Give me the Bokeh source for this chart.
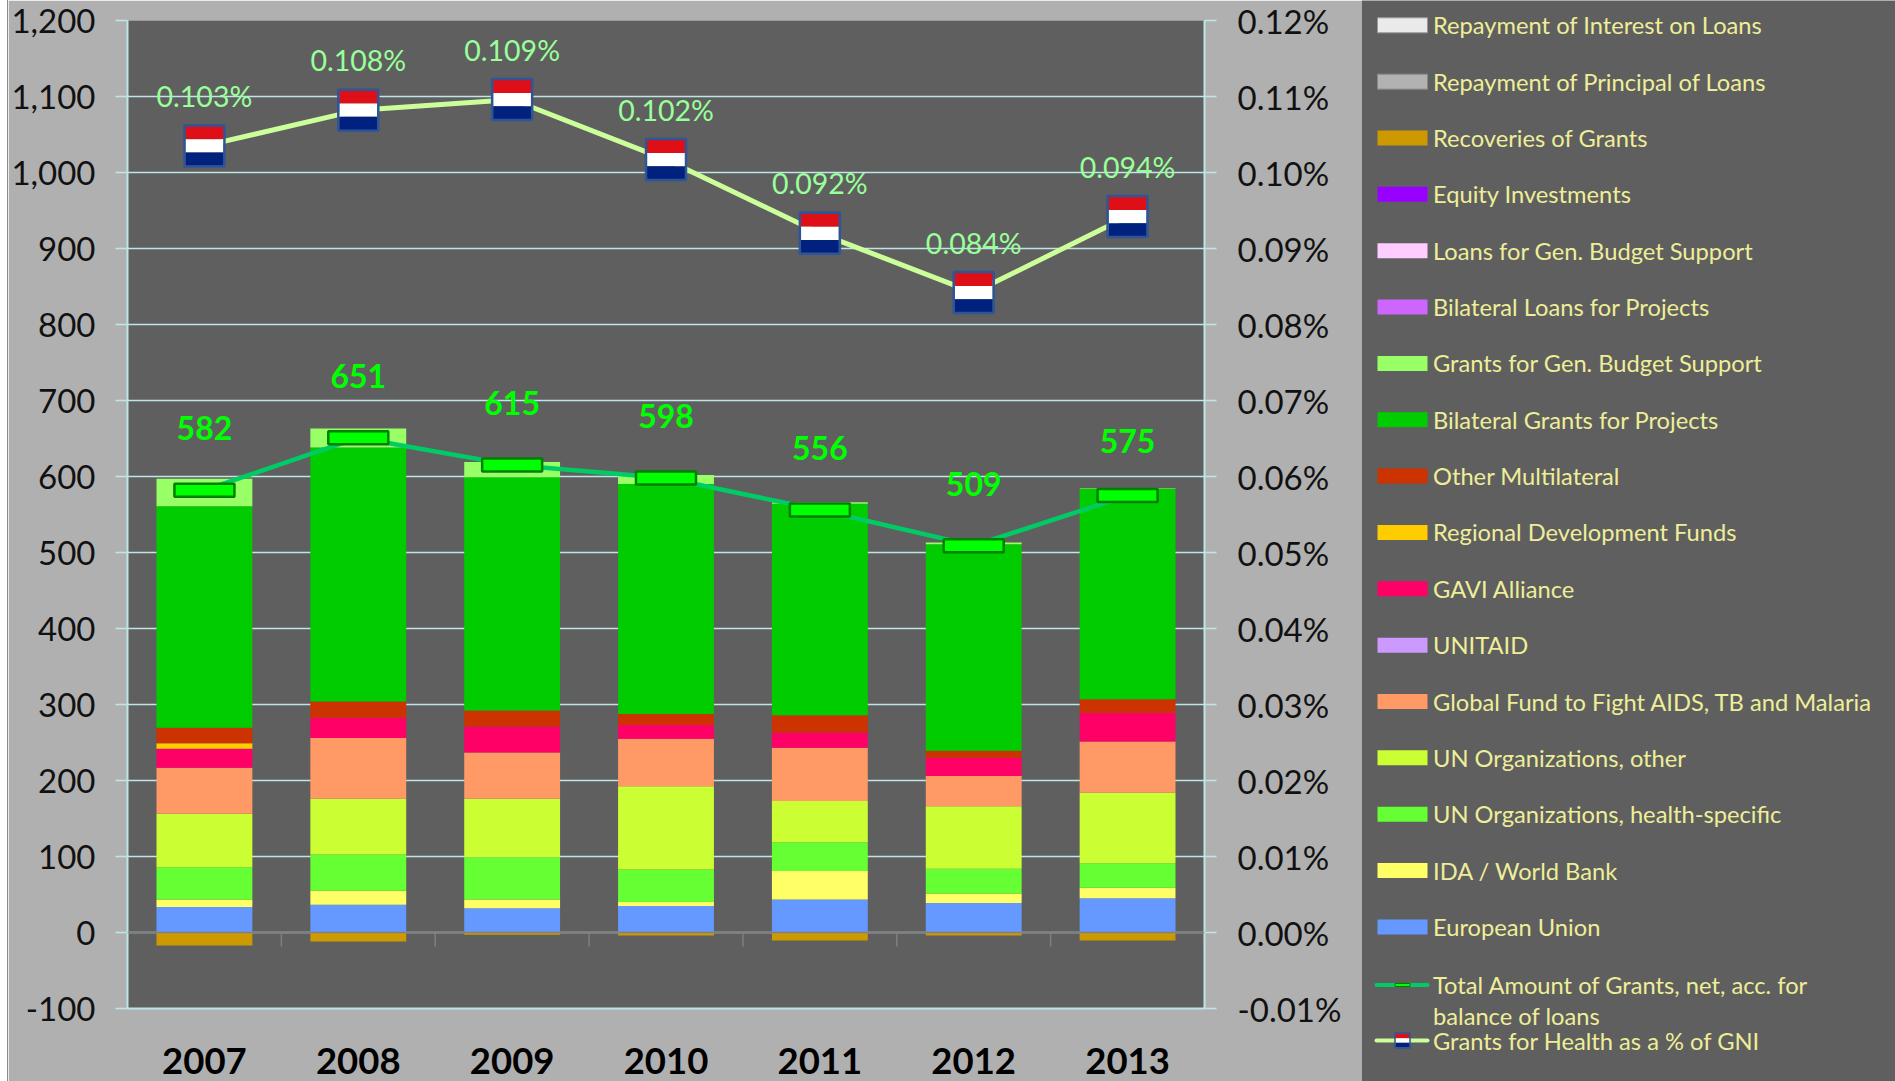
from bokeh.plotting import figure
from bokeh.models import (ColumnDataSource, Range1d, LinearAxis, FixedTicker,
                          NumeralTickFormatter, PrintfTickFormatter, Span)
from bokeh.core.properties import value
from bokeh.embed import file_html
from bokeh.resources import INLINE

years = [2007, 2008, 2009, 2010, 2011, 2012, 2013]

recoveries = [-17, -12, -3, -4, -10.5, -4, -10.5]
european_union = [33.4, 36.5, 32, 35, 43.5, 38.7, 45]
ida_world_bank = [10, 18.5, 11.5, 5, 37.5, 12.7, 14]
un_health = [42.5, 47.5, 55.5, 43, 37.7, 32.6, 32]
un_other = [70.5, 73.5, 77, 109.5, 54.3, 82, 93]
global_fund = [60.5, 80, 61, 62.5, 70, 40, 67.4]
gavi = [25, 26.6, 34, 18, 20, 24, 37.6]
regional_funds = [7, 0, 0, 0, 0, 0, 0]
other_multilateral = [20.5, 21.4, 21, 14.5, 23, 9, 18]
bilateral_grants = [291.5, 334, 307, 302.5, 278, 272, 277]
budget_support = [36, 25, 20, 12, 2, 2, 0.5]

total_grants = [582, 651, 615, 598, 556, 509, 575]
pct_gni = [0.1035, 0.1082, 0.1096, 0.1017, 0.0920, 0.0842, 0.0942]
pct_labels = ["0.103%", "0.108%", "0.109%", "0.102%", "0.092%", "0.084%", "0.094%"]

left_ticks = [-100, 0, 100, 200, 300, 400, 500, 600, 700, 800, 900, 1000, 1100, 1200]
right_ticks = [-0.01, 0, 0.01, 0.02, 0.03, 0.04, 0.05, 0.06, 0.07, 0.08, 0.09, 0.10, 0.11, 0.12]

legend_labels = ["Repayment of Interest on Loans", "Repayment of Principal of Loans",
                 "Recoveries of Grants", "Equity Investments", "Loans for Gen. Budget Support",
                 "Bilateral Loans for Projects", "Grants for Gen. Budget Support",
                 "Bilateral Grants for Projects", "Other Multilateral", "Regional Development Funds",
                 "GAVI Alliance", "UNITAID", "Global Fund to Fight AIDS, TB and Malaria",
                 "UN Organizations, other", "UN Organizations, health-specific",
                 "IDA / World Bank", "European Union"]
legend_colors = ["#EAEAEA", "#B2B2B2", "#CC9900", "#9900FF", "#FFCCFF", "#CC66FF", "#99FF66",
                 "#00CC00", "#CC3300", "#FFCC00", "#FF0066", "#CC99FF", "#FF9966", "#CCFF33",
                 "#66FF33", "#FFFF66", "#6699FF"]
color_of = dict(zip(legend_labels, legend_colors))

GREY = "#B0B0B0"
DARK = "#5F5F5F"
CYAN = "#BFE6E6"
FONT = "Lato"
RED, WHITE, BLUE = "#DF0F17", "#FFFFFF", "#00217D"
FRAME = "#2F5597"

p = figure(width=1353, height=1081, output_backend="svg", toolbar_location=None,
           x_range=Range1d(2006.5, 2013.5), y_range=Range1d(-100, 1200),
           min_border_left=118, min_border_right=157, min_border_top=20, min_border_bottom=73,
           background_fill_color=DARK, border_fill_color=GREY, outline_line_color=None,
           styles={"position": "absolute", "left": "8px", "top": "0px",
                   "box-shadow": "-1px 0 0 #8C8C8C"})
p.extra_y_ranges = {"pct": Range1d(-0.01, 0.12)}

# axes
p.xgrid.visible = False
p.ygrid.ticker = FixedTicker(ticks=left_ticks)
p.ygrid.grid_line_color = CYAN
p.ygrid.grid_line_width = 1.5

ya = p.yaxis[0]
ya.ticker = FixedTicker(ticks=left_ticks)
ya.formatter = NumeralTickFormatter(format="0,0")
right = LinearAxis(y_range_name="pct", ticker=FixedTicker(ticks=right_ticks),
                   formatter=PrintfTickFormatter(format="%.2f%%"))
p.add_layout(right, "right")
for a in (ya, right):
    a.axis_line_color = CYAN
    a.axis_line_width = 2
    a.major_tick_line_color = CYAN
    a.major_tick_line_width = 1.5
    a.major_tick_out = 12
    a.major_tick_in = 0
    a.minor_tick_line_color = None
    a.major_label_text_font = FONT
    a.major_label_text_font_size = "33px"
    a.major_label_text_color = "#111111"
ya.major_label_standoff = 20
right.major_label_standoff = 21

xa = p.xaxis[0]
xa.ticker = FixedTicker(ticks=years)
xa.formatter = PrintfTickFormatter(format="%d")
xa.axis_line_color = CYAN
xa.axis_line_width = 2
xa.major_tick_line_color = None
xa.minor_tick_line_color = None
xa.major_label_text_font = FONT
xa.major_label_text_font_size = "36.5px"
xa.major_label_text_font_style = "bold"
xa.major_label_text_color = "#000000"
xa.major_label_standoff = 33

# stacked bars
stack_series = [("European Union", european_union), ("IDA / World Bank", ida_world_bank),
                ("UN Organizations, health-specific", un_health), ("UN Organizations, other", un_other),
                ("Global Fund to Fight AIDS, TB and Malaria", global_fund), ("GAVI Alliance", gavi),
                ("Regional Development Funds", regional_funds), ("Other Multilateral", other_multilateral),
                ("Bilateral Grants for Projects", bilateral_grants), ("Grants for Gen. Budget Support", budget_support)]
BAR = 0.623
src = ColumnDataSource({"x": years, "recov": recoveries, **{k: v for k, v in stack_series}})
names = [k for k, _ in stack_series]
p.vbar_stack(names, x="x", width=BAR, color=[color_of[n] for n in names], source=src, line_color=None)
p.vbar(x="x", bottom=0, top="recov", width=BAR, color=color_of["Recoveries of Grants"], source=src, line_color=None)

# zero line with its ticks
p.add_layout(Span(location=0, dimension="width", line_color="#7F7F7F", line_width=1.5))
bounds = [years[0] - 0.5] + [y + 0.5 for y in years]
p.segment(x0=bounds, x1=bounds, y0=[0] * len(bounds), y1=[-18.5] * len(bounds),
          line_color="#7F7F7F", line_width=1.5)

# total line
lsrc = ColumnDataSource({"x": years, "y": total_grants, "t": [str(v) for v in total_grants],
                         "off": [-62, -62, -62, -62, -62, -62, -55]})
p.line("x", "y", source=lsrc, line_color="#00CC66", line_width=4.5)
p.rect("x", "y", width=60, height=13, width_units="screen", height_units="screen", source=lsrc,
       fill_color="#00FF00", line_color="#008000", line_width=2.5)
p.text("x", "y", text="t", source=lsrc, text_color="#00FF00", text_font=value(FONT),
       text_font_size="32px", text_font_style="bold", text_align="center", text_baseline="middle", y_offset="off")

# percent line with flags
STRIPE = 17.5  # data units on the left scale, one flag stripe
psrc = ColumnDataSource({"x": years, "y": pct_gni, "t": pct_labels,
                         "off": [-50, -50, -50, -50, -50, -50, -50],
                         "top": [v * 10000 + STRIPE for v in pct_gni],
                         "mid": [v * 10000 for v in pct_gni],
                         "low": [v * 10000 - STRIPE for v in pct_gni]})
p.line("x", "y", source=psrc, y_range_name="pct", line_color="#CCFF99", line_width=5)
for col, colr in (("top", RED), ("mid", WHITE), ("low", BLUE)):
    p.rect("x", col, width=38, height=13.3, width_units="screen", height_units="screen", source=psrc,
           fill_color=colr, line_color=None)
p.rect("x", "mid", width=40, height=41, width_units="screen", height_units="screen", source=psrc,
       fill_color=None, line_color=FRAME, line_width=2.5)
p.text("x", "y", text="t", source=psrc, y_range_name="pct", text_color="#99FF99", text_font=value(FONT),
       text_font_size="28.5px", text_align="center", text_baseline="middle", y_offset="off")

# legend panel, drawn in the reference's own pixel coordinates
q = figure(width=534, height=1081, output_backend="svg", toolbar_location=None,
           x_range=Range1d(1361, 1895), y_range=Range1d(1081, 0),
           min_border=0, background_fill_color=DARK, border_fill_color=DARK, outline_line_color=None,
           styles={"position": "absolute", "left": "1361px", "top": "0px"})
q.axis.visible = False
q.grid.visible = False
TXT = "#EEEE99"
row_y = [24.8 + 56.35 * i for i in range(len(legend_labels))]
q.rect(x=[1402] * len(row_y), y=row_y, width=50, height=15, fill_color=legend_colors,
       line_color=["#999999", "#888888"] + [None] * (len(row_y) - 2))
extra_text = ["Total Amount of Grants, net, acc. for", "balance of loans", "Grants for Health as a % of GNI"]
extra_y = [984.5, 1015.5, 1040]
q.text(x=[1432.5] * (len(row_y) + 3), y=row_y + extra_y, text=legend_labels + extra_text, text_color=TXT,
       text_font=value(FONT), text_font_size="23.7px", text_align="left", text_baseline="middle")
q.segment(x0=[1376, 1376], x1=[1427, 1427], y0=[extra_y[0], extra_y[2]], y1=[extra_y[0], extra_y[2]],
          line_color=["#00CC66", "#CCFF99"], line_width=4, line_cap="round")
q.rect(x=[1402], y=[extra_y[0]], width=15, height=3, fill_color="#00FF00", line_color="#008000", line_width=1)
q.rect(x=[1402] * 3, y=[extra_y[2] - 4.3, extra_y[2], extra_y[2] + 4.3], width=14, height=4.3,
       fill_color=[RED, WHITE, BLUE], line_color=None)
q.rect(x=[1402], y=[extra_y[2]], width=15, height=15, fill_color=None, line_color=FRAME, line_width=1.5)

open("out.html", "w").write(file_html((p, q), INLINE))
